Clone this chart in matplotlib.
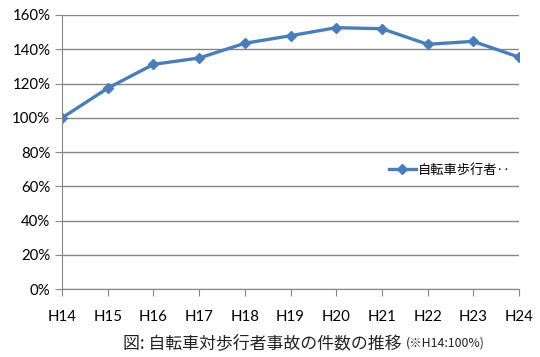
import matplotlib
matplotlib.use("Agg")
import matplotlib.pyplot as plt
from matplotlib.ticker import FuncFormatter

plt.rcParams["font.family"] = ["Lato", "Noto Sans CJK JP", "DejaVu Sans"]

years = ["H14", "H15", "H16", "H17", "H18", "H19", "H20", "H21", "H22", "H23", "H24"]
ratio = [100.0, 117.3, 131.2, 134.9, 143.5, 147.9, 152.6, 152.0, 142.9, 144.6, 135.4]
legend_label = "自転車歩行者‥"
caption = "図: 自転車対歩行者事故の件数の推移"
note = "(※H14:100%)"

blue = "#4a7ebb"
grey = "#868686"

fig = plt.figure(figsize=(5.4, 3.57), dpi=100)
ax = fig.add_axes([0.115, 0.19, 0.846, 0.768])

x = list(range(len(years)))
ax.plot(x, ratio, color=blue, lw=2.4, marker="D", ms=5.5, label=legend_label)

ax.set_xlim(0, len(years) - 1)
ax.set_ylim(0, 160)
ax.set_yticks(range(0, 161, 20))
ax.yaxis.set_major_formatter(FuncFormatter(lambda v, _: f"{v:.0f}%"))
ax.set_xticks(x)
ax.set_xticklabels(years)
ax.grid(axis="y", color=grey, lw=1)
ax.set_axisbelow(True)

for side in ("top", "right"):
    ax.spines[side].set_visible(False)
for side in ("left", "bottom"):
    ax.spines[side].set_color(grey)
ax.tick_params(axis="both", colors=grey, labelcolor="black", labelsize=10.8, length=5)
ax.tick_params(axis="x", pad=10)

ax.legend(loc="center left", bbox_to_anchor=(0.69, 0.434), frameon=False,
          handlelength=2.0, handletextpad=0.2,
          prop={"family": ["Noto Sans CJK JP"], "size": 9.5})

fig.text(0.228, 0.04, caption, fontsize=12.2, family=["Noto Sans CJK JP"],
         color="#222222", va="center")
fig.text(0.751, 0.04, note, fontsize=8.9, family=["Noto Sans CJK JP"],
         color="#222222", va="center")

fig.savefig("out.png", dpi=100)
